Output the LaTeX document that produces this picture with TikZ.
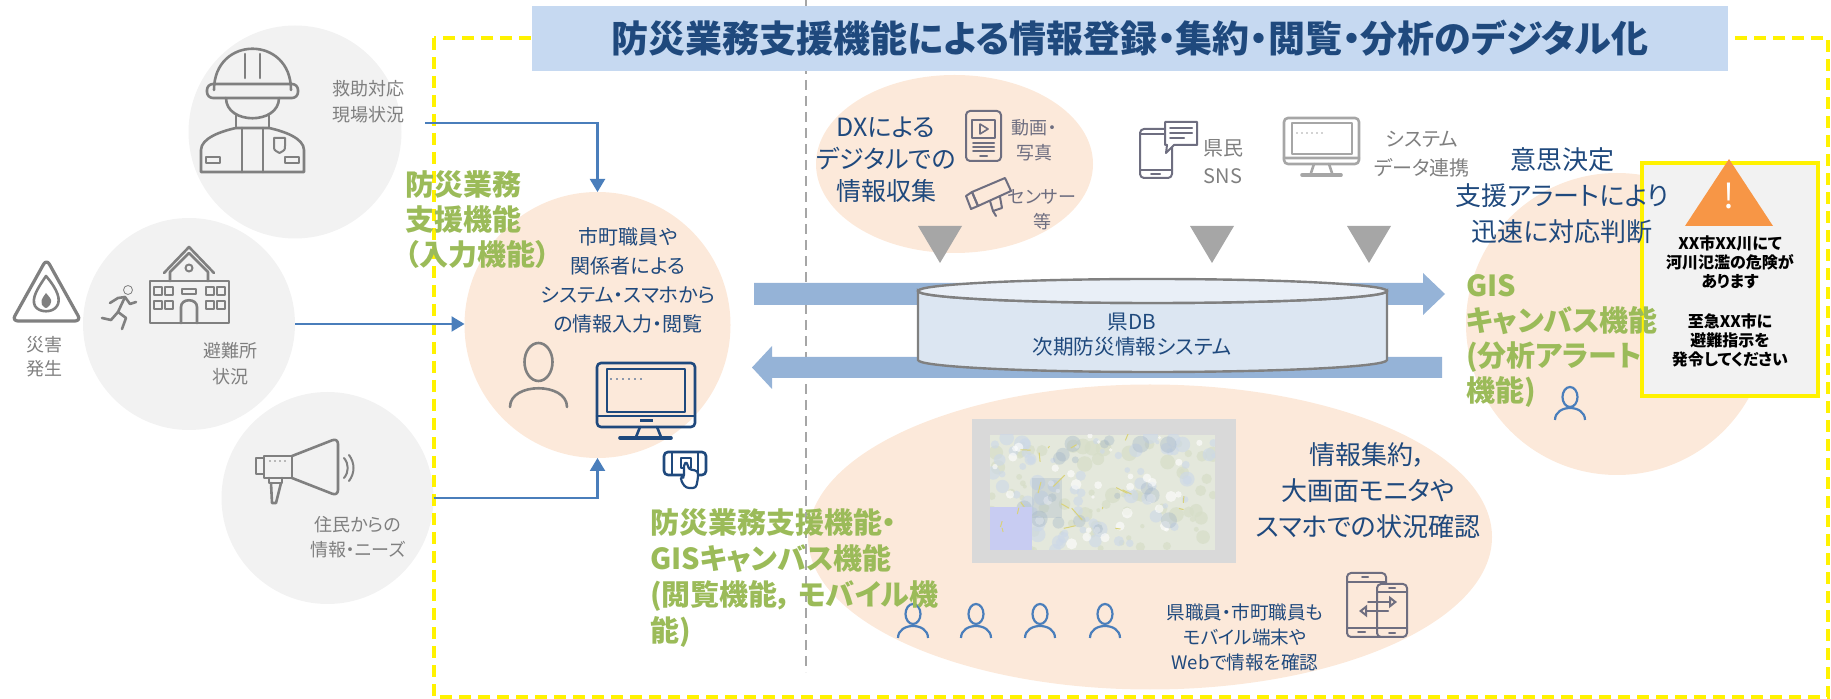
\documentclass[tikz,border=0pt]{standalone}
\usepackage{fontspec}
\setmainfont{Noto Sans CJK JP}[RawFeature={+palt}]
\usetikzlibrary{arrows.meta,shapes.geometric}

\definecolor{navy}{HTML}{1F497D}
\definecolor{leaf}{HTML}{9BBB59}
\definecolor{peach}{HTML}{FCE9DA}
\definecolor{mist}{HTML}{F2F2F2}
\definecolor{flowblue}{HTML}{4A7EBB}
\definecolor{bandblue}{HTML}{95B3D7}
\definecolor{titlebg}{HTML}{C6D9F1}
\definecolor{txtgray}{HTML}{7F7F7F}
\definecolor{icongray}{HTML}{808080}
\definecolor{dropgray}{HTML}{A6A6A6}
\definecolor{slate}{HTML}{6E6E80}
\definecolor{alertorange}{HTML}{F79646}
\definecolor{dbfill}{HTML}{DCE6F2}
\definecolor{dbtop}{HTML}{E9EFF7}
\definecolor{mapframe}{HTML}{D9D9D9}
\definecolor{mapbase}{HTML}{E4E8DC}
\definecolor{mapblue}{HTML}{CCD8E8}
\definecolor{mapslate}{HTML}{9FB2C6}
\definecolor{mapgreen}{HTML}{D6DEC8}
\definecolor{maplav}{HTML}{C8CCF2}
\definecolor{mapyellow}{HTML}{D9D27A}

\begin{document}
\begin{tikzpicture}[x=0.5pt, y=-0.5pt,
	every node/.style={inner sep=0pt, outer sep=0pt},
	bubble/.style={circle, fill=mist},
	peachbubble/.style={circle, fill=peach},
	peachoval/.style={ellipse, fill=peach},
	graytext/.style={txtgray, align=center, font=\fontsize{9}{13}\selectfont},
	navytext/.style={navy, align=center},
	greentext/.style={leaf, align=left, anchor=west, font=\bfseries\fontsize{14.5}{17.5}\selectfont},
	flow/.style={flowblue, line width=1.1pt, -{Triangle[length=6.5pt, width=7.5pt]}},
	icon/.style={icongray, line width=1.3pt, line join=round, line cap=round},
	navyicon/.style={icon, navy},
	slateicon/.style={icon, slate, line width=1pt},
	person/.style={flowblue, line width=1.1pt}]

	\useasboundingbox (0,0) rectangle (1831,699);

	% background bubbles
	\node[bubble, minimum size=106.5pt] (rescue) at (295,132) {};
	\node[bubble, minimum size=106pt] (shelter) at (189,324) {};
	\node[bubble, minimum size=106pt] (voice) at (327.5,498) {};
	\node[peachbubble, minimum size=133pt] (input) at (597.5,325) {};
	\node[peachoval, minimum width=138.5pt, minimum height=89pt] (dx) at (954.5,164) {};
	\node[peachbubble, minimum size=151pt] (gis) at (1617,324) {};
	\node[peachoval, minimum width=342pt, minimum height=152.5pt] (view) at (1150,537) {};

	\draw[yellow, line width=2pt, dash pattern=on 6pt off 3.5pt] (434,38) rectangle (1828,697);
	\draw[dropgray, line width=0.8pt, dash pattern=on 5pt off 3pt] (806,0) -- (806,672);

	\node[fill=titlebg, minimum width=598pt, minimum height=32.5pt, text=navy,
		font=\bfseries\fontsize{18.5}{20}\selectfont] (title) at (1130,38.5)
		{防災業務支援機能による情報登録・集約・閲覧・分析のデジタル化};

	% inputs on the left
	\coordinate (rescueout) at (425,123);
	\draw[flow] (rescueout) -| (input.north);
	\draw[flow] (shelter.east) -- (shelter.east -| input.west);
	\draw[flow] (voice.east) -| (input.south);

	% firefighter
	\draw[icon] (214,90) .. controls (214,35) and (291,35) .. (291,90);
	\draw[icon] (245,54) -- (245,78) (260,54) -- (260,78);
	\draw[icon, rounded corners=3pt] (207,84) rectangle (298,98);
	\draw[icon] (226,98) .. controls (226,125) and (279,125) .. (279,98);
	\draw[icon] (236,114) -- (236,128) (269,114) -- (269,128);
	\draw[icon] (201,172) -- (201,150) .. controls (201,138) and (222,131) .. (236,128) -- (269,128)
		.. controls (283,131) and (304,138) .. (304,150) -- (304,172) -- cycle;
	\draw[icon] (242,128) -- (242,172) (263,128) -- (263,172);
	\draw[icon] (206,157) rectangle (220,163) (285,157) rectangle (299,163);
	\draw[icon, line width=1pt] (274,138) -- (285,138) -- (285,146) .. controls (285,150) .. (279.5,153)
		.. controls (274,150) .. (274,146) -- cycle;
	\node[graytext] (rescuetxt) at (368.5,102) {救助対応\\現場状況};

	% disaster sign
	\draw[icon, line width=1.6pt, rounded corners=3pt] (46.5,259) -- (81,321) -- (12,321) -- cycle;
	\draw[icon] (46,276) .. controls (58,290) and (61,300) .. (57,306) .. controls (53,313) and (39,313) .. (35,306)
		.. controls (31,298) and (38,288) .. (46,276) -- cycle;
	\fill[icongray] (46,293) .. controls (52,300) .. (50,305) .. controls (46,309) .. (42,305) .. controls (41,300) .. (46,293);
	\node[graytext, font=\fontsize{9}{12}\selectfont] (hazard) at (44,357) {災害\\発生};

	% shelter
	\draw[icongray] (128,290) circle (4.5);
	\draw[icon] (125,297) -- (118,312);
	\draw[icon] (110,303) -- (118,298) -- (125,297) -- (130,304) -- (136,302);
	\draw[icon] (118,312) -- (126,318) -- (122,329) (118,312) -- (111,320) -- (102,318);
	\draw[icon] (150,281) rectangle (229,323);
	\draw[icon] (170,281) -- (170,272) -- (189,253) -- (208,272) -- (208,281);
	\draw[icon] (164,273) -- (189,247) -- (214,273);
	\draw[icon, line width=1pt] (189,268) circle (3.5);
	\foreach \wx in {154,165,206,217}
		\foreach \wy in {287,301}
			\draw[icon, line width=1pt] (\wx,\wy) rectangle ++(8,8);
	\draw[icon] (181,323) -- (181,307) .. controls (181,298) and (197,298) .. (197,307) -- (197,323);
	\draw[icon, line width=1pt] (182,289) rectangle (196,294);
	\node[graytext] (sheltertxt) at (230,363.5) {避難所\\状況};

	% megaphone
	\draw[icon] (256,458) rectangle (264,474);
	\draw[icon] (264,456) rectangle (292,478);
	\draw[icon, rounded corners=3pt] (292,456) -- (338,438) -- (338,496) -- (292,478);
	\foreach \dx in {270,275,280,285}
		\fill[icongray] (\dx,461) circle (0.9);
	\draw[icon] (269,478) -- (269,483) -- (282,483) -- (282,478);
	\draw[icon] (271,483) -- (272,503) -- (276,503) -- (281,483);
	\draw[icon, line width=1pt] (344,458) .. controls (349,464) and (349,472) .. (344,478);
	\draw[icon, line width=1pt] (349,455) .. controls (355,463) and (355,473) .. (349,481);
	\node[graytext, font=\fontsize{9}{12.5}\selectfont] (voicetxt) at (358,537.5) {住民からの\\情報・ニーズ};

	% input circle
	\node[navytext, font=\fontsize{10}{14.5}\selectfont] (inputtxt) at (628,280.5)
		{市町職員や\\関係者による\\システム・スマホから\\の情報入力・閲覧};
	\draw[icon] (538.5,362) ellipse[x radius=14, y radius=19];
	\draw[icon] (510,407) .. controls (510,382) and (567,382) .. (567,407);
	\draw[navyicon, rounded corners=2pt] (597,363) rectangle (695,427);
	\draw[navyicon, line width=1pt] (607,369) rectangle (685,412);
	\draw[navyicon] (597,416) -- (695,416);
	\fill[navy] (640,419) rectangle (653,422);
	\draw[navyicon] (640,427) -- (636,437) (657,427) -- (661,437);
	\draw[navyicon, line width=1.8pt] (620,438) -- (671,438);
	\foreach \dx in {611,617,...,641}
		\fill[navy] (\dx,379) circle (0.9);
	\draw[navyicon, rounded corners=2pt] (664,452) rectangle (706,475);
	\draw[navyicon, line width=1pt] (672,452) -- (672,475) (698,452) -- (698,475);
	\draw[navyicon, fill=white, line width=1.1pt] (681,458) rectangle (691,468);
	\draw[navyicon, fill=white, line width=1.1pt, rounded corners=1.5pt] (684,463) -- (684,478) -- (681,476) -- (681,481)
		-- (686,488) -- (696,488) -- (698,478) -- (698,471) -- (688,469) -- (688,463) -- cycle;
	\node[greentext] (inputfn) at (405,220) {防災業務\\支援機能\\（入力機能）};

	% data flow bands
	\fill[bandblue] (754,283) -- (1423,283) -- (1423,273) -- (1445,294) -- (1423,315) -- (1423,305) -- (754,305) -- cycle;
	\fill[bandblue] (1442,357) -- (772,357) -- (772,346) -- (752,367.5) -- (772,389) -- (772,378) -- (1442,378) -- cycle;

	% prefectural database
	\filldraw[fill=dbfill, draw=icongray, line width=1.2pt] (918,291) -- (918,360)
		arc[start angle=180, end angle=0, x radius=234.5, y radius=12] -- (1387,291)
		arc[start angle=0, end angle=180, x radius=234.5, y radius=12] -- cycle;
	\filldraw[fill=dbtop, draw=icongray, line width=1.2pt] (1152.5,291) ellipse[x radius=234.5, y radius=12];
	\node[navytext, font=\fontsize{10.3}{12.5}\selectfont] (db) at (1132,334.5) {県DB\\次期防災情報システム};

	% sources above the database
	\fill[dropgray] (918,226) -- (962,226) -- (940,263) -- cycle;
	\fill[dropgray] (1190,226) -- (1234,226) -- (1212,263) -- cycle;
	\fill[dropgray] (1347,226) -- (1391,226) -- (1369,263) -- cycle;

	\node[navytext, font=\fontsize{12.5}{16}\selectfont] (dxtxt) at (886,160) {DXによる\\デジタルでの\\情報収集};
	\draw[slateicon, rounded corners=2pt] (966,111) rectangle (1001,161);
	\draw[slateicon] (972,120) rectangle (995,138);
	\draw[slateicon, line width=0.8pt] (980,124) -- (980,134) -- (988,129) -- cycle;
	\draw[slateicon] (973,143) -- (994,143) (973,147) -- (994,147) (973,151) -- (994,151) (980,156) -- (987,156);
	\draw[slateicon] (972,192) -- (1005,178) -- (1011,191) -- (978,206) -- cycle;
	\draw[slateicon] (966,196) -- (972,192) -- (978,206) -- (971,209) -- cycle;
	\draw[slateicon] (990,201) -- (993,211) -- (1002,208) -- (1000,197);
	\draw[slateicon] (993,211) -- (996,216);
	\node[navytext, slate, font=\fontsize{9}{12.5}\selectfont] (movie) at (1034,140.5) {動画・\\写真};
	\node[navytext, slate, font=\fontsize{9}{12.5}\selectfont] (sensor) at (1042,209.5) {センサー\\等};

	\draw[slateicon, rounded corners=2pt] (1140,129) rectangle (1172,178);
	\draw[slateicon] (1140,134) -- (1172,134) (1140,170) -- (1172,170) (1151,174) -- (1160,174);
	\filldraw[slateicon, fill=white] (1165,122) -- (1197,122) -- (1197,145) -- (1174,145) -- (1166,153) -- (1167,145)
		-- (1165,145) -- cycle;
	\draw[slateicon] (1170,128) -- (1192,128) (1170,133) -- (1192,133) (1170,138) -- (1184,138);
	\node[graytext, font=\fontsize{10}{14}\selectfont] (sns) at (1223,162) {県民\\SNS};

	\draw[icon, dropgray, rounded corners=2pt] (1284,118) rectangle (1359,164);
	\draw[icon, dropgray, line width=1pt] (1292,123) rectangle (1352,154);
	\draw[icon, dropgray] (1284,158) -- (1359,158) (1314,164) -- (1311,173) (1329,164) -- (1332,173);
	\draw[icon, dropgray, line width=1.8pt] (1302,175) -- (1341,175);
	\foreach \dx in {1297,1302,...,1322}
		\fill[dropgray] (\dx,133) circle (0.9);
	\node[graytext, font=\fontsize{10}{14.5}\selectfont] (link) at (1422,154.5) {システム\\データ連携};

	% analysis side
	\node[draw=yellow, line width=2pt, fill=mist, minimum width=88pt, minimum height=116.5pt] (alert) at (1730,279.5) {};
	\fill[alertorange] (1729,159) -- (1773,226) -- (1685,226) -- cycle;
	\node[white, font=\fontsize{17}{17}\selectfont] (bang) at (1729,196) {!};
	\node[align=center, font=\bfseries\fontsize{8}{9.5}\selectfont] (alerttxt) at (1730,301.5)
		{XX市XX川にて\\河川氾濫の危険が\\あります\\[10.5pt]至急XX市に\\避難指示を\\発令してください};
	\node[navytext, font=\fontsize{13}{18}\selectfont] (decide) at (1562,195.5)
		{意思決定\\支援アラートにより\\迅速に対応判断};
	\node[greentext] (gisfn) at (1466,340.5) {GIS\\キャンバス機能\\(分析アラート\\機能)};
	\draw[person] (1570,397) ellipse[x radius=7.5, y radius=10];
	\draw[person] (1555,420) .. controls (1555,404) and (1585,404) .. (1585,420);

	% viewing on large screens and mobiles
	\node[fill=mapframe, minimum width=132pt, minimum height=72pt] (screen) at (1104,491) {};
	\begin{scope}
		\clip (990,435) rectangle (1215,550);
		\fill[mapbase] (990,435) rectangle (1215,550);
		\pgfmathsetseed{4}
		\foreach \i in {1,...,70}
			\fill[mapgreen, opacity=0.7] (990+225*rnd,435+115*rnd) circle (2+6*rnd);
		\foreach \i in {1,...,70}
			\fill[mapblue, opacity=0.6] (990+225*rnd,435+115*rnd) circle (2+6*rnd);
		\foreach \i in {1,...,40}
			\fill[white, opacity=0.6] (990+225*rnd,435+115*rnd) circle (1.5+4*rnd);
		\foreach \i in {1,...,18}
			\fill[mapslate, opacity=0.35] (1010+170*rnd,440+90*rnd) circle (3+6*rnd);
		\fill[maplav] (990,507) rectangle (1032,550);
		\fill[mapslate, opacity=0.3] (1032,478) rectangle (1062,518);
		\foreach \i in {1,...,20}
			\draw[mapyellow, line width=0.5pt] (1000+200*rnd,440+100*rnd) -- ++(-12+24*rnd,-12+24*rnd);
	\end{scope}
	\node[navytext, font=\fontsize{13}{18}\selectfont] (bigscreen) at (1368,491)
		{情報集約，\\大画面モニタや\\スマホでの状況確認};
	\foreach \px in {913,976,1040,1105} {
		\draw[person] (\px,614) ellipse[x radius=7.5, y radius=10];
		\draw[person] (\px-15,638) .. controls (\px-15,622) and (\px+15,622) .. (\px+15,638);
	}
	\node[navytext, font=\fontsize{9.3}{12.5}\selectfont] (mobile) at (1245,637)
		{県職員・市町職員も\\モバイル端末や\\Webで情報を確認};
	\draw[slateicon, rounded corners=2pt] (1347,573) rectangle (1386,637);
	\draw[slateicon] (1347,582) -- (1386,582) (1347,628) -- (1377,628) (1362,577) -- (1368,577) (1358,632) -- (1365,632);
	\filldraw[slateicon, fill=peach, rounded corners=2pt] (1377,584) rectangle (1407,637);
	\draw[slateicon] (1377,592) -- (1407,592) (1377,628) -- (1407,628) (1389,588) -- (1395,588) (1389,633) -- (1395,633);
	\draw[slateicon, -{Triangle[open, length=4pt, width=6pt]}] (1368,602) -- (1397,602);
	\draw[slateicon, -{Triangle[open, length=4pt, width=6pt]}] (1388,611) -- (1359,611);
	\node[greentext, font=\bfseries\fontsize{14.5}{18}\selectfont] (viewfn) at (650,577.5)
		{防災業務支援機能・\\GISキャンバス機能\\(閲覧機能，\ モバイル機\\能)};
\end{tikzpicture}
\end{document}
